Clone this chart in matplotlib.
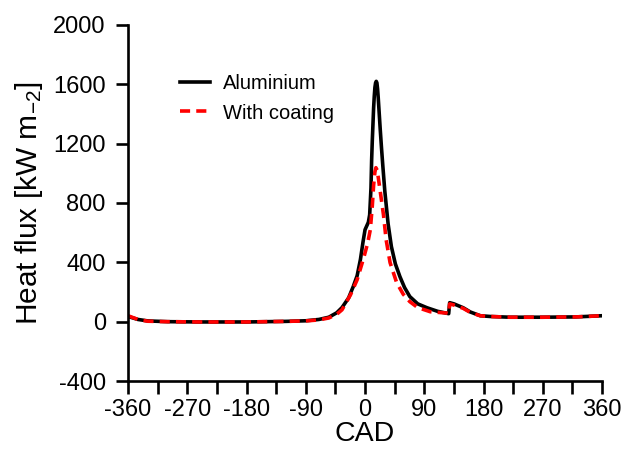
import numpy as np
import matplotlib.pyplot as plt

plt.rcParams['font.family'] = ['Liberation Sans', 'DejaVu Sans']
plt.rcParams['mathtext.default'] = 'regular'
plt.rcParams['axes.unicode_minus'] = False

# crank angle (deg) and heat flux (kW m-2)
cad_al = [-360, -345, -330, -300, -250, -180, -120, -90, -70, -55, -43, -35, -25, -18,
          -12, -7, -3, 0, 3, 5, 7, 9, 10, 11, 12, 13, 14, 15, 16, 17, 18, 19, 20, 21, 22,
          23, 25, 27, 30, 35, 40, 46, 53, 60,
          68, 80, 94, 110, 127, 128.5, 135, 149, 160, 175, 190, 220, 270, 320, 350, 360]
q_al = [35, 15, 5, 0, -2, -2, 2, 6, 15, 30, 60, 95, 160, 236,
        310, 420, 540, 620, 650, 670, 720, 900, 1090, 1220, 1330, 1440, 1520, 1580, 1610, 1620, 1610, 1570, 1510, 1440, 1370,
        1300, 1170, 1050, 880, 660, 506, 390, 303, 230,
        169, 120, 94, 70, 54, 128, 120, 94, 65, 40, 35, 30, 30, 32, 38, 40]

cad_co = [-360, -345, -330, -300, -250, -180, -120, -90, -70, -55, -43, -35, -22, -12,
          -2, 4, 8, 11, 13, 15, 16.5, 18, 20, 23, 28, 32, 38, 48, 58, 68, 80, 99, 124, 127,
          128.5, 135, 149, 160, 175, 190, 220, 270, 320, 350, 360]
q_co = [40, 15, 3, 0, -2, -2, 2, 5, 12, 25, 50, 80, 182, 283,
        431, 530, 620, 780, 920, 1010, 1038, 1025, 975, 880, 720, 553, 398, 263, 185, 135, 95, 67, 58, 54,
        120, 112, 90, 62, 40, 35, 30, 30, 32, 38, 40]

fig = plt.figure(figsize=(6.22, 4.51), dpi=100)
ax = fig.add_axes([0.2058, 0.1552, 0.7622, 0.7894])

ax.plot(cad_al, q_al, color='black', lw=2.6, label='Aluminium')
ax.plot(cad_co, q_co, color='red', lw=2.6, dashes=(2.8, 1.7), label='With coating')

ax.set_xlim(-360, 360)
ax.set_ylim(-400, 2000)
ax.set_xticks(np.arange(-360, 361, 45))
ax.set_xticklabels([str(v) if v % 90 == 0 else '' for v in range(-360, 361, 45)])
ax.set_yticks(np.arange(-400, 2001, 400))

for s in ['top', 'right']:
    ax.spines[s].set_visible(False)
for s in ['left', 'bottom']:
    ax.spines[s].set_linewidth(1.9)
ax.tick_params(axis='both', length=9, width=1.9, labelsize=17)
ax.tick_params(axis='y', pad=7)
ax.tick_params(axis='x', pad=4)

ax.set_xlabel('CAD', fontsize=20.5, labelpad=0)
ax.set_ylabel('Heat flux [kW m$_{-2}$]', fontsize=21.5, labelpad=6)

ax.legend(loc='upper left', bbox_to_anchor=(0.072, 0.912), frameon=False, fontsize=14.5,
          handlelength=1.5, handletextpad=0.6, labelspacing=0.5)

fig.savefig('out.png', dpi=100)
